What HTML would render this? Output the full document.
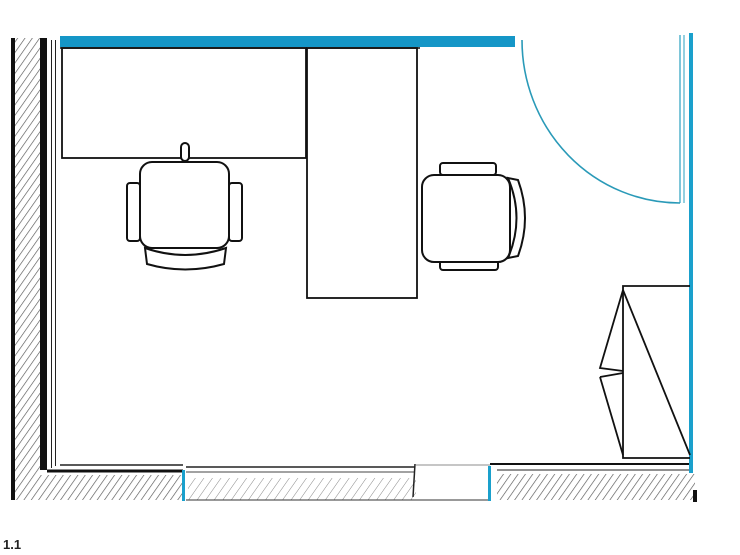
<!DOCTYPE html>
<html><head><style>html,body{margin:0;padding:0;background:#fff;width:740px;height:555px;overflow:hidden}</style></head>
<body>
<svg width="740" height="555" viewBox="0 0 740 555" xmlns="http://www.w3.org/2000/svg">
<defs>
<pattern id="h" width="6" height="6" patternUnits="userSpaceOnUse" patternTransform="rotate(35)">
<rect width="6" height="6" fill="#fff"/><line x1="0" y1="0" x2="0" y2="6" stroke="#555" stroke-width="1.3"/>
</pattern>
<pattern id="h2" width="7" height="7" patternUnits="userSpaceOnUse" patternTransform="rotate(35)">
<rect width="7" height="7" fill="#fff"/><line x1="0" y1="0" x2="0" y2="7" stroke="#888" stroke-width="1"/>
</pattern>
</defs>
<!-- left wall -->
<rect x="11" y="38" width="4" height="462" fill="#111"/>
<rect x="15" y="38" width="25" height="462" fill="url(#h)"/>
<rect x="40" y="38" width="7" height="432" fill="#111"/>
<line x1="51.5" y1="40" x2="51.5" y2="468" stroke="#222" stroke-width="1"/>
<line x1="55.5" y1="40" x2="55.5" y2="466" stroke="#222" stroke-width="1"/>
<!-- bottom wall -->
<rect x="15" y="475" width="168" height="25" fill="url(#h)"/>
<rect x="188" y="478" width="228" height="22" fill="url(#h2)"/>
<rect x="497" y="474" width="198" height="26" fill="url(#h)"/>
<line x1="47" y1="471" x2="183" y2="471" stroke="#111" stroke-width="3"/>
<line x1="60" y1="465" x2="183" y2="465" stroke="#222" stroke-width="1.5"/>
<line x1="186" y1="467" x2="415" y2="467" stroke="#222" stroke-width="1.5"/>
<line x1="186" y1="472" x2="415" y2="472" stroke="#444" stroke-width="1"/>
<line x1="415" y1="464" x2="413" y2="497" stroke="#222" stroke-width="1.5"/>
<line x1="186" y1="500" x2="490" y2="500" stroke="#333" stroke-width="1"/>
<line x1="415" y1="465" x2="490" y2="465" stroke="#666" stroke-width="0.8"/>
<line x1="490" y1="464" x2="693" y2="464" stroke="#111" stroke-width="2"/>
<line x1="497" y1="470" x2="693" y2="470" stroke="#222" stroke-width="1"/>
<rect x="182" y="470" width="3" height="31" fill="#1aa0cc"/>
<rect x="488" y="466" width="3" height="35" fill="#1aa0cc"/>
<rect x="693" y="490" width="4" height="12" fill="#111"/>
<!-- top cyan -->
<rect x="60" y="36" width="455" height="11" fill="#1596c7"/>
<line x1="60" y1="48" x2="420" y2="48" stroke="#111" stroke-width="1.5"/>
<!-- right wall -->
<rect x="689" y="33" width="4" height="440" fill="#1aa0cc"/>
<line x1="680" y1="35" x2="680" y2="203" stroke="#2aa0c0" stroke-width="1.2"/>
<line x1="684" y1="35" x2="684" y2="203" stroke="#2aa0c0" stroke-width="1"/>
<path d="M522 40 A158 163 0 0 0 680 203" fill="none" stroke="#2a9ab8" stroke-width="1.6"/>
<!-- desks -->
<rect x="62" y="48" width="244" height="110" fill="none" stroke="#111" stroke-width="1.8"/>
<rect x="307" y="48" width="110" height="250" fill="none" stroke="#111" stroke-width="1.8"/>
<!-- left chair -->
<g fill="#fff" stroke="#111" stroke-width="2">
<rect x="181" y="143" width="8" height="18" rx="4"/>
<rect x="127" y="183" width="13" height="58" rx="3"/>
<rect x="229" y="183" width="13" height="58" rx="3"/>
<path d="M145 248 Q185 262 226 248 L224 264 Q185 275 147 264 Z"/>
<rect x="140" y="162" width="89" height="86" rx="12"/>
</g>
<!-- right chair -->
<g fill="#fff" stroke="#111" stroke-width="2">
<rect x="440" y="163" width="56" height="12" rx="3"/>
<rect x="440" y="258" width="58" height="12" rx="3"/>
<path d="M508 178 Q525 218 508 258 L518 256 Q532 218 518 180 Z"/>
<rect x="422" y="175" width="88" height="87" rx="12"/>
</g>
<!-- cabinet -->
<g fill="none" stroke="#111" stroke-width="1.8">
<polyline points="690,286 623,286 623,458 690,458"/>
<polyline points="623,290 690,455"/>
<polyline points="623,290 600,368 623,371"/>
<polyline points="600,377 623,373"/>
<polyline points="600,377 623,455"/>
</g>
<text x="3" y="549" font-family="Liberation Sans, sans-serif" font-weight="bold" font-size="13" fill="#222">1.1</text>
</svg>
</body></html>
